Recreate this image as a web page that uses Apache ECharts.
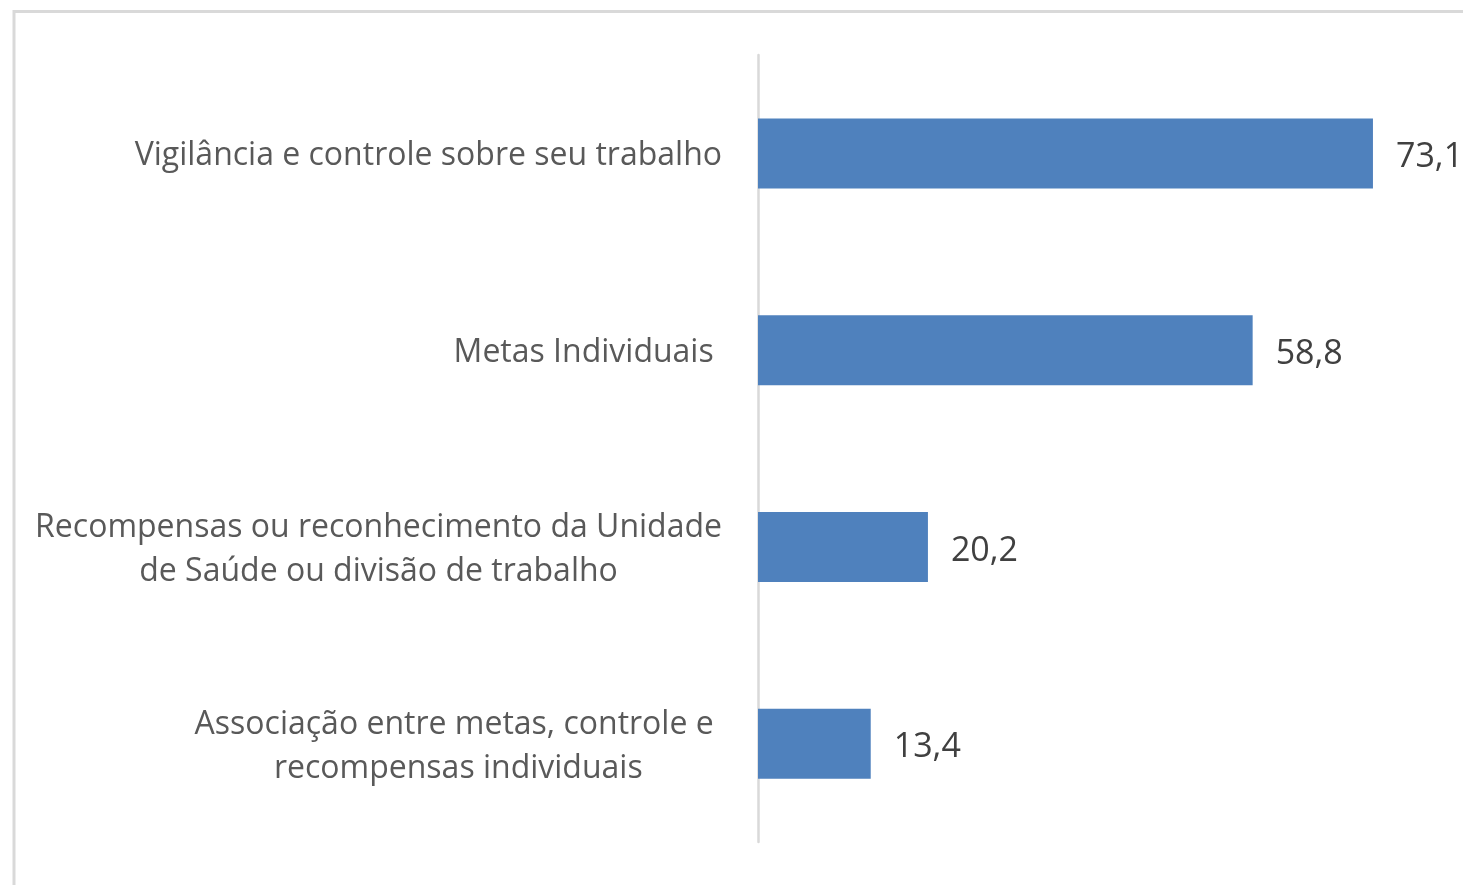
<!DOCTYPE html>
<html>
<head>
<meta charset="utf-8">
<script src="https://cdn.jsdelivr.net/npm/echarts@6/dist/echarts.min.js"></script>
<style>
  html, body { margin: 0; padding: 0; background: #fff; }
  #chart { width: 1463px; height: 885px; }
</style>
</head>
<body>
<div id="chart"></div>
<script>
let chart = echarts.init(document.querySelector("#chart"))

// categories from bottom to top (category axis on y runs upward)
const categories = [
    'Associação entre metas, controle e \nrecompensas individuais',
    'Recompensas ou reconhecimento da Unidade\nde Saúde ou divisão de trabalho',
    'Metas Individuais ',
    'Vigilância e controle sobre seu trabalho'
]
const values = [13.4, 20.2, 58.8, 73.1]

const FONT = 'Open Sans'

let option = {
    animation: false,
    backgroundColor: '#ffffff',
    graphic: [
        {
            type: 'polyline',
            shape: { points: [[14, 900], [14, 11.5], [1480, 11.5]] },
            style: { stroke: '#d9d9d9', lineWidth: 3, fill: null }
        }
    ],
    grid: {
        left: 758,
        top: 55,
        bottom: 43,
        width: 673
    },
    xAxis: {
        type: 'value',
        min: 0,
        max: 80,
        show: false
    },
    yAxis: {
        type: 'category',
        data: categories,
        axisLine: { show: true, lineStyle: { color: '#d9d9d9', width: 2.5 } },
        axisTick: { show: false },
        axisLabel: {
            margin: 36,
            padding: [6, 0, 0, 0],
            formatter: function (v) {
                return v.split('\n').map(s => '{c|' + s + '}').join('\n')
            },
            rich: {
                c: {
                    align: 'center',
                    fontFamily: FONT,
                    fontSize: 32,
                    color: '#595959',
                    lineHeight: 44
                }
            }
        }
    },
    series: [
        {
            type: 'bar',
            data: values,
            barWidth: 70,
            itemStyle: { color: '#4f81bd' },
            label: {
                show: true,
                position: 'right',
                distance: 23,
                offset: [0, 4],
                fontFamily: FONT,
                fontSize: 34,
                color: '#404040',
                formatter: p => p.value.toFixed(1).replace('.', ',')
            }
        }
    ]
};
chart.setOption(option);
</script>
</body>
</html>
